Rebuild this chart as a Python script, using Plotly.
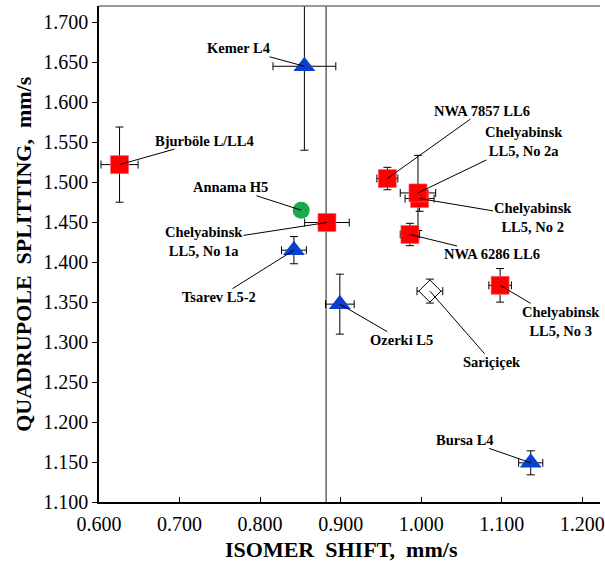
import plotly.graph_objects as go

# ---- data ----
red_names = ["Bjurböle L/LL4", "Chelyabinsk LL5, No 1a", "NWA 7857 LL6",
             "Chelyabinsk LL5, No 2", "Chelyabinsk LL5, No 2a", "NWA 6286 LL6",
             "Chelyabinsk LL5, No 3"]
red_is = [0.6255, 0.883, 0.958, 0.998, 0.996, 0.986, 1.098]
red_qs = [1.522, 1.4496, 1.5046, 1.4796, 1.4866, 1.4346, 1.371]
red_is_err = [0.023, 0.0277, 0.013, 0.018, 0.022, 0.012, 0.014]
red_qs_err = [0.047, 0.004, 0.014, 0.016, 0.047, 0.014, 0.021]

blue_names = ["Kemer L4", "Tsarev L5-2", "Ozerki L5", "Bursa L4"]
blue_is = [0.855, 0.842, 0.899, 1.136]
blue_qs = [1.645, 1.415, 1.3475, 1.149]
blue_is_err = [0.039, 0.0154, 0.0178, 0.015]
blue_qs_err = [0.105, 0.017, 0.0375, 0.015]

green_names = ["Annama H5"]
green_is = [0.851]
green_qs = [1.465]

open_names = ["Sariçiçek"]
open_is = [1.0108]
open_qs = [1.3638]
open_is_err = [0.016]
open_qs_err = [0.015]

ref_is = 0.882  # vertical reference line

x_ticks = [0.6, 0.7, 0.8, 0.9, 1.0, 1.1, 1.2]
y_ticks = [1.1, 1.15, 1.2, 1.25, 1.3, 1.35, 1.4, 1.45, 1.5, 1.55, 1.6, 1.65, 1.7]

# label texts and offsets (pixels) from their points
labels = {
    "Kemer L4": ("Kemer L4", -66, -18),
    "Bjurböle L/LL4": ("Bjurböle L/LL4", 85, -24),
    "Annama H5": ("Annama H5", -71, -23),
    "Chelyabinsk LL5, No 1a": ("Chelyabinsk<br>LL5, No 1a", -123, 19),
    "Tsarev L5-2": ("Tsarev L5-2", -75, 47),
    "NWA 7857 LL6": ("NWA 7857 LL6", 95, -68),
    "Chelyabinsk LL5, No 2a": ("Chelyabinsk<br>LL5, No 2a", 106, -51),
    "Chelyabinsk LL5, No 2": ("Chelyabinsk<br>LL5, No 2", 113, 19),
    "NWA 6286 LL6": ("NWA 6286 LL6", 82, 20),
    "Chelyabinsk LL5, No 3": ("Chelyabinsk<br>LL5, No 3", 61, 36),
    "Sariçiçek": ("Sariçiçek", 62, 71),
    "Ozerki L5": ("Ozerki L5", 62, 36),
    "Bursa L4": ("Bursa L4", -66, -23),
}

SERIF = "Liberation Serif, Times New Roman, serif"

def ebar(arr):
    return dict(type="data", array=arr, color="black", thickness=1, width=4)

fig = go.Figure()

fig.add_trace(go.Scatter(
    x=blue_is, y=blue_qs, mode="markers",
    marker=dict(symbol="triangle-up", size=19, color="#0a3fd0",
                line=dict(width=0)),
    error_x=ebar(blue_is_err), error_y=ebar(blue_qs_err), showlegend=False))

fig.add_trace(go.Scatter(
    x=green_is, y=green_qs, mode="markers",
    marker=dict(symbol="circle", size=17, color="#1aa84a", line=dict(width=0)),
    showlegend=False))

fig.add_trace(go.Scatter(
    x=open_is, y=open_qs, mode="markers",
    marker=dict(symbol="diamond", size=17, color="white",
                line=dict(width=1, color="black")),
    error_x=ebar(open_is_err), error_y=ebar(open_qs_err), showlegend=False))

fig.add_trace(go.Scatter(
    x=red_is, y=red_qs, mode="markers",
    marker=dict(symbol="square", size=18, color="#ff0000",
                line=dict(width=0.6, color="#ff6060")),
    error_x=ebar(red_is_err), error_y=ebar(red_qs_err), showlegend=False))

# vertical reference line
fig.add_shape(type="line", x0=ref_is, x1=ref_is, y0=0, y1=1, xref="x",
              yref="paper", line=dict(color="#666666", width=1.5), layer="below")
# top border
fig.add_shape(type="line", x0=0, x1=1, y0=1, y1=1, xref="paper",
              yref="paper", line=dict(color="#777777", width=1.5))

all_pts = {}
for n, x, y in zip(red_names, red_is, red_qs):
    all_pts[n] = (x, y)
for n, x, y in zip(blue_names, blue_is, blue_qs):
    all_pts[n] = (x, y)
for n, x, y in zip(green_names, green_is, green_qs):
    all_pts[n] = (x, y)
for n, x, y in zip(open_names, open_is, open_qs):
    all_pts[n] = (x, y)

for name, (txt, ax, ay) in labels.items():
    x, y = all_pts[name]
    fig.add_annotation(x=x, y=y, text="<b>" + txt + "</b>", ax=ax, ay=ay,
                       showarrow=True, arrowhead=0, arrowwidth=1,
                       arrowcolor="black", standoff=0, borderpad=0,
                       font=dict(family=SERIF, size=14.5, color="black"))

fig.add_annotation(x=0.5, y=-0.0948, xref="paper", yref="paper",
                   text="<b>ISOMER  SHIFT,  mm/s</b>", showarrow=False,
                   xanchor="center", yanchor="middle", xshift=-8,
                   font=dict(family=SERIF, size=22, color="black"))
fig.add_annotation(x=-0.152, y=0.5, xref="paper", yref="paper",
                   text="<b>QUADRUPOLE  SPLITTING,  mm/s</b>", showarrow=False,
                   textangle=-90, xanchor="center", yanchor="middle",
                   font=dict(family=SERIF, size=22, color="black"))

fig.update_layout(
    width=605, height=561,
    margin=dict(l=99, r=0, t=6, b=59),
    paper_bgcolor="white", plot_bgcolor="white",
    font=dict(family=SERIF, color="black"),
    xaxis=dict(range=[0.6, 1.222], tickvals=x_ticks, tickformat=".3f",
               showgrid=False, zeroline=False, showline=True,
               linecolor="black", linewidth=1.5, ticks="inside",
               ticklen=5, tickcolor="black", ticklabeloverflow="allow",
               ticklabelstandoff=3,
               tickfont=dict(family=SERIF, size=20, color="black")),
    yaxis=dict(range=[1.1, 1.7204], tickvals=y_ticks, tickformat=".3f",
               showgrid=False, zeroline=False, showline=True,
               linecolor="black", linewidth=1.5, ticks="outside",
               ticklen=5, tickcolor="black",
               tickfont=dict(family=SERIF, size=20, color="black")),
)

fig.write_html("out.html")
